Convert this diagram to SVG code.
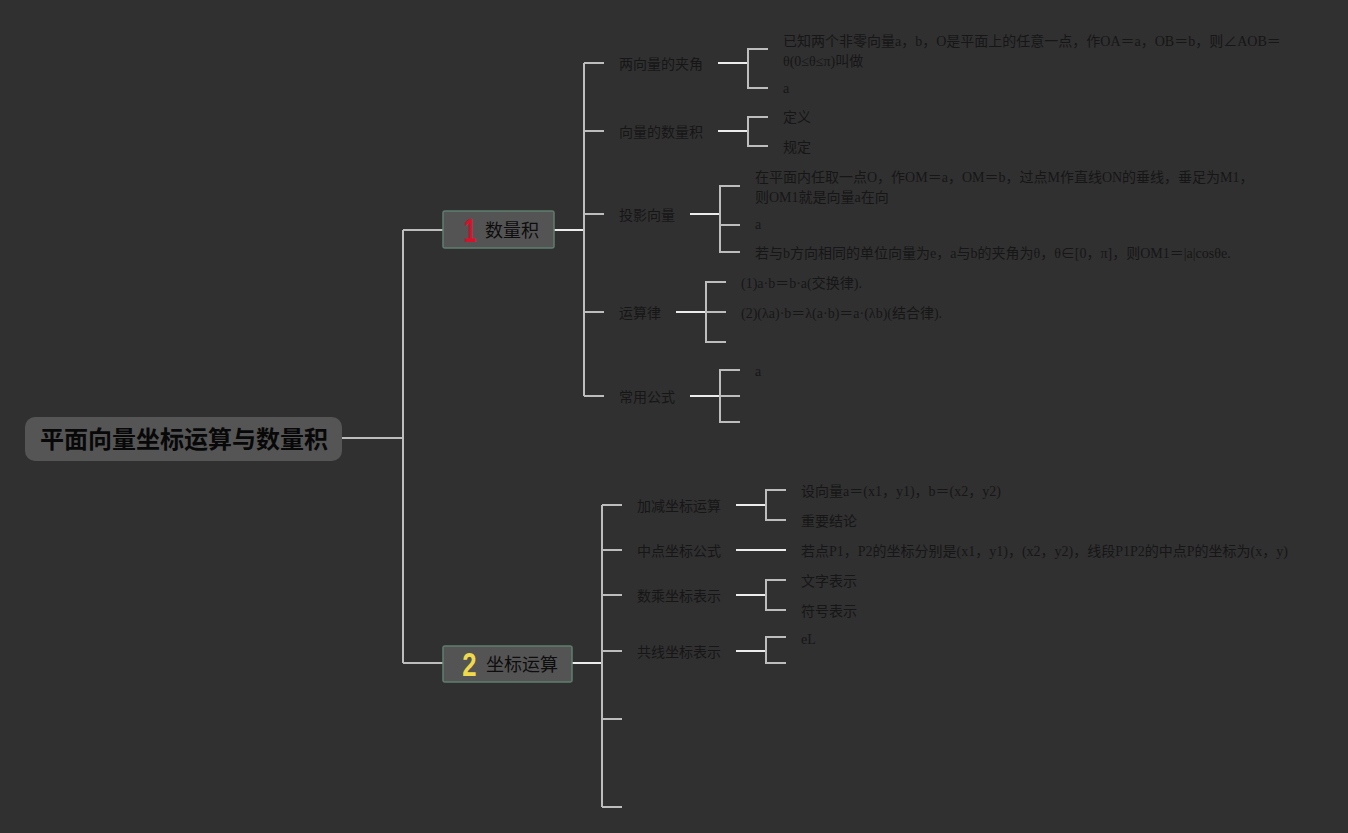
<svg xmlns="http://www.w3.org/2000/svg" width="1348" height="833" viewBox="0 0 1348 833">
<style>
.bg{fill:#303030}
.c{stroke:#bdbdbd;stroke-width:2;fill:none}
.w{stroke:#ececec;stroke-width:2;fill:none}
.l2{font-family:"Noto Sans CJK SC","Noto Sans",sans-serif;font-size:14px;fill:#161616}
.l3{font-family:"Liberation Serif","Noto Sans CJK SC",serif;font-size:14px;fill:#161616}
.l1{font-family:"Noto Sans CJK SC","Noto Sans",sans-serif;font-size:18px;fill:#0d0d0d}
.box{fill:#545454;stroke:#5f7d6e;stroke-width:1.5}
.num{font-family:"Liberation Sans","Noto Sans",sans-serif;font-weight:bold;font-size:33px}
</style>
<rect class="bg" x="0" y="0" width="1348" height="833"/>
<g id="connectors">
<path class="c" d="M342 438H403M403 230V663M403 230H443M403 663H443"/>
<path class="w" d="M554 230H584"/>
<path class="c" d="M584 63V396M584 63H604M584 131H604M584 214H604M584 312H604M584 396H604"/>
<path class="w" d="M718 63H748M718 131H748M690 214H720M676 312H706M690 396H720"/>
<path class="c" d="M768 49H748V88H768M768 117H748V146H768M740 186H720V252H740M720 225H740M726 282H706V342H726M706 312H726M740 370H720V422H740M720 396H740"/>
<path class="w" d="M572 663H602"/>
<path class="c" d="M602 505V807M602 505H622M602 550H622M602 595H622M602 651H622M602 719H622M602 807H622"/>
<path class="w" d="M736 505H766M736 550H786M736 595H766M736 651H766"/>
<path class="c" d="M786 490H766V520H786M786 580H766V610H786M786 637H766V663H786"/>
</g>
<g id="root">
<rect x="25" y="417" width="317" height="44" rx="10" fill="#555555"/>
<text x="184" y="448" text-anchor="middle" font-family="Noto Sans CJK SC,Noto Sans,sans-serif" font-size="24" font-weight="bold" fill="#080808">平面向量坐标运算与数量积</text>
</g>
<g id="n1">
<rect class="box" x="443" y="211" width="111" height="37" rx="2"/>
<text class="num" transform="translate(470,242) scale(0.7,1)" text-anchor="middle" fill="#d8112a">1</text>
<text class="l1" x="485" y="237">数量积</text>
</g>
<g id="n2">
<rect class="box" x="443" y="646" width="129" height="36" rx="2"/>
<text class="num" transform="translate(469.5,676) scale(0.78,1)" text-anchor="middle" fill="#f0da4c">2</text>
<text class="l1" x="486" y="671">坐标运算</text>
</g>
<g id="n1-1"><text class="l2" x="619" y="69">两向量的夹角</text></g>
<g id="n1-2"><text class="l2" x="619" y="137">向量的数量积</text></g>
<g id="n1-3"><text class="l2" x="619" y="220">投影向量</text></g>
<g id="n1-4"><text class="l2" x="619" y="318">运算律</text></g>
<g id="n1-5"><text class="l2" x="619" y="402">常用公式</text></g>
<g id="n1-1-1"><text class="l3" x="783" y="46">已知两个非零向量a，b，O是平面上的任意一点，作OA＝a，OB＝b，则∠AOB＝</text><text class="l3" x="783" y="66">θ(0≤θ≤π)叫做</text></g>
<g id="n1-1-2"><text class="l3" x="783" y="93">a</text></g>
<g id="n1-2-1"><text class="l2" x="783" y="122">定义</text></g>
<g id="n1-2-2"><text class="l2" x="783" y="152">规定</text></g>
<g id="n1-3-1"><text class="l3" x="755" y="182">在平面内任取一点O，作OM＝a，OM＝b，过点M作直线ON的垂线，垂足为M1，</text><text class="l3" x="755" y="202">则OM1就是向量a在向</text></g>
<g id="n1-3-2"><text class="l3" x="755" y="229">a</text></g>
<g id="n1-3-3"><text class="l3" x="755" y="258">若与b方向相同的单位向量为e，a与b的夹角为θ，θ∈[0，π]，则OM1＝|a|cosθe.</text></g>
<g id="n1-4-1"><text class="l3" x="741" y="288">(1)a·b＝b·a(交换律).</text></g>
<g id="n1-4-2"><text class="l3" x="741" y="318">(2)(λa)·b＝λ(a·b)＝a·(λb)(结合律).</text></g>
<g id="n1-5-1"><text class="l3" x="755" y="376">a</text></g>
<g id="n2-1"><text class="l2" x="637" y="511">加减坐标运算</text></g>
<g id="n2-2"><text class="l2" x="637" y="556">中点坐标公式</text></g>
<g id="n2-3"><text class="l2" x="637" y="601">数乘坐标表示</text></g>
<g id="n2-4"><text class="l2" x="637" y="657">共线坐标表示</text></g>
<g id="n2-1-1"><text class="l3" x="801" y="496">设向量a＝(x1，y1)，b＝(x2，y2)</text></g>
<g id="n2-1-2"><text class="l2" x="801" y="526">重要结论</text></g>
<g id="n2-2-1"><text class="l3" x="801" y="556">若点P1，P2的坐标分别是(x1，y1)，(x2，y2)，线段P1P2的中点P的坐标为(x，y)</text></g>
<g id="n2-3-1"><text class="l2" x="801" y="586">文字表示</text></g>
<g id="n2-3-2"><text class="l2" x="801" y="616">符号表示</text></g>
<g id="n2-4-1"><text class="l3" x="801" y="644">eL</text></g>
</svg>
